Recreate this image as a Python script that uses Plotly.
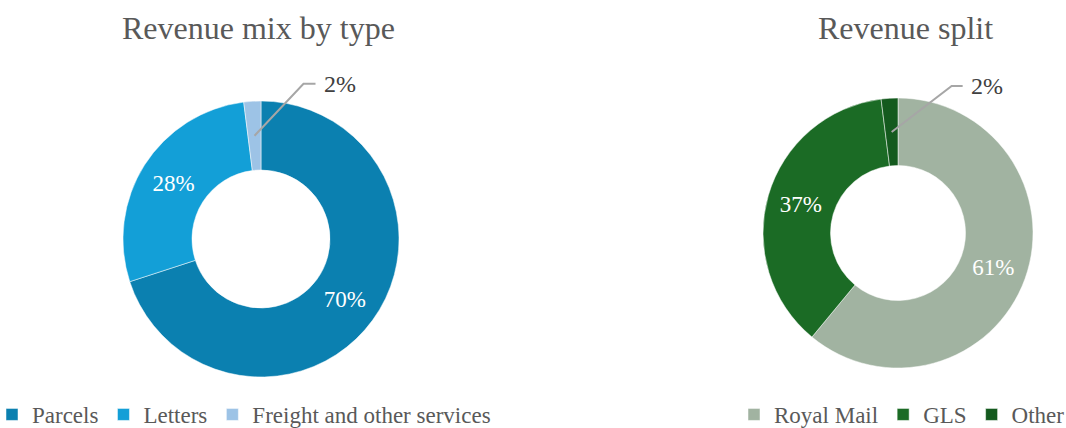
import math
import plotly.graph_objects as go

W, H = 1066, 428

# Data
type_labels = ["Parcels", "Letters", "Freight and other services"]
type_values = [70, 28, 2]
type_colors = ["#0B80B0", "#139FD7", "#9DC3E6"]

split_labels = ["Royal Mail", "GLS", "Other"]
split_values = [61, 37, 2]
split_colors = ["#A1B3A1", "#1B6B25", "#145A1E"]

FONT = "Liberation Serif, Times New Roman, serif"
GREY = "#595959"


def px(x):
    return x / W


def py(y):
    return 1 - y / H


# pie geometry (pixels): center and outer radius; leader-line offsets (dx, dy, tail)
charts = [
    dict(labels=type_labels, values=type_values, colors=type_colors,
         c=(261, 239), r=138, leg="legend", lead=(49, -52, 12)),
    dict(labels=split_labels, values=split_values, colors=split_colors,
         c=(898, 233), r=135, leg="legend2", lead=(60, -46, 11)),
]


def dom(c, r):
    return dict(x=[px(c[0] - r), px(c[0] + r)], y=[py(c[1] + r), py(c[1] - r)])


fig = go.Figure()

for ch in charts:
    labels, values, colors, c, r = ch["labels"], ch["values"], ch["colors"], ch["c"], ch["r"]
    total = sum(values)
    texts = [f"{round(v / total * 100)}%" if i < len(values) - 1 else "" for i, v in enumerate(values)]
    fig.add_trace(go.Pie(
        labels=labels, values=values, hole=0.5, sort=False, direction="clockwise",
        rotation=0, domain=dom(c, r),
        marker=dict(colors=colors, line=dict(color="white", width=0.5)),
        text=texts, textinfo="text", textposition="inside",
        insidetextorientation="horizontal",
        textfont=dict(family=FONT, size=23, color="white"),
        legend=ch["leg"], hoverinfo="label+percent",
    ))
    # leader line for the last (small) slice, computed from data
    start_frac = sum(values[:-1]) / total
    mid = (start_frac + values[-1] / total / 2) * 2 * math.pi
    rr = 0.75 * r
    x0 = c[0] + rr * math.sin(mid)
    y0 = c[1] - rr * math.cos(mid)
    dx, dy, tail = ch["lead"]
    x1, y1 = x0 + dx, y0 + dy
    x2 = x1 + tail
    fig.add_shape(type="path",
                  path=f"M {px(x0)} {py(y0)} L {px(x1)} {py(y1)} L {px(x2)} {py(y1)}",
                  xref="paper", yref="paper", line=dict(color="#A6A6A6", width=2))
    fig.add_annotation(x=px(x2 + 6), y=py(y1), xref="paper", yref="paper",
                       text=f"{round(values[-1] / total * 100)}%", showarrow=False,
                       xanchor="left", yanchor="middle",
                       font=dict(family=FONT, size=24, color="#404040"))

fig.add_annotation(x=px(258), y=py(28), xref="paper", yref="paper", text="Revenue mix by type",
                   showarrow=False, xanchor="center", yanchor="middle",
                   font=dict(family=FONT, size=32, color=GREY))
fig.add_annotation(x=px(905), y=py(28), xref="paper", yref="paper", text="Revenue split",
                   showarrow=False, xanchor="center", yanchor="middle",
                   font=dict(family=FONT, size=32, color=GREY))

legend_style = dict(orientation="h", font=dict(family=FONT, size=23, color=GREY),
                    xanchor="left", yanchor="bottom", bgcolor="rgba(0,0,0,0)",
                    itemclick=False, itemdoubleclick=False, tracegroupgap=0)

fig.update_layout(
    width=W, height=H, margin=dict(l=0, r=0, t=0, b=0, autoexpand=False),
    paper_bgcolor="white", plot_bgcolor="white",
    legend=dict(x=px(-8), y=py(436), **legend_style),
    legend2=dict(x=px(734), y=py(436), **legend_style),
)

fig.write_html("out.html")
